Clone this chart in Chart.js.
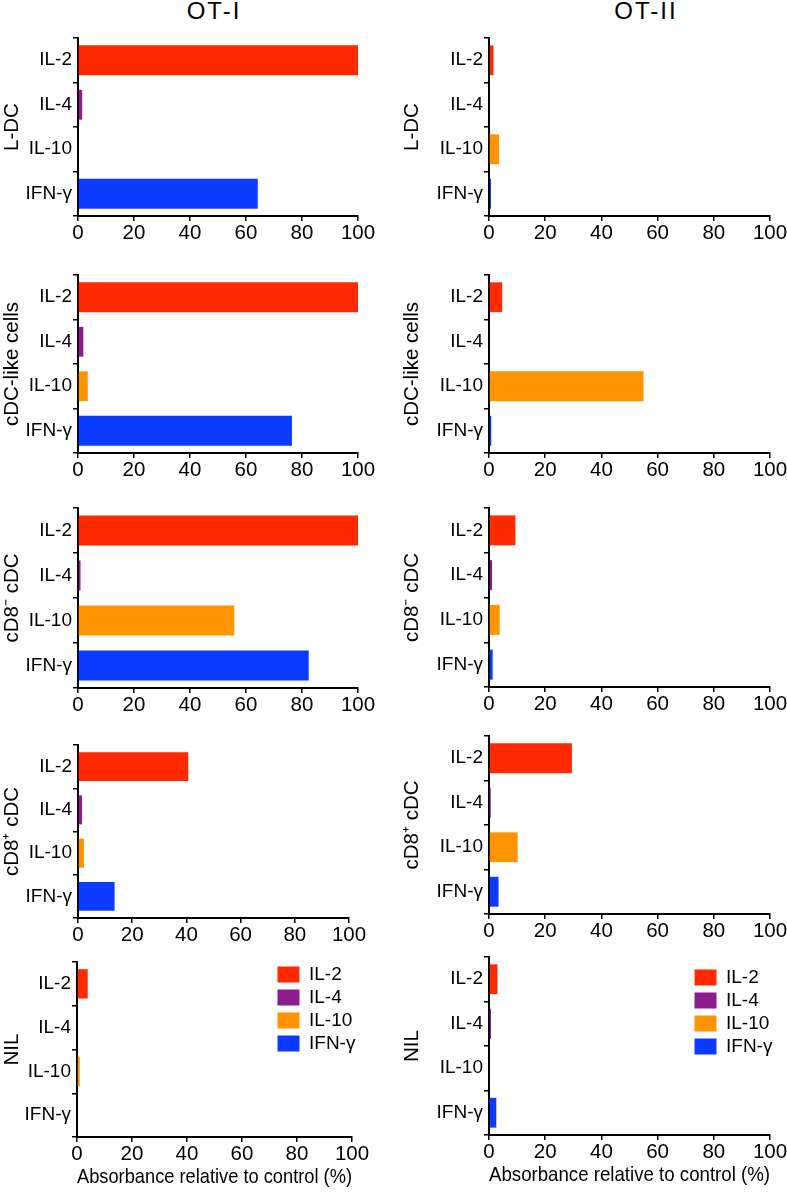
<!DOCTYPE html>
<html>
<head>
<meta charset="utf-8">
<script src="https://cdn.jsdelivr.net/npm/chart.js@4.4.0/dist/chart.umd.min.js"></script>
<style>
  body { margin: 0; background: #fff; }
  #page { position: relative; width: 787px; height: 1192px; overflow: hidden; font-family: "Liberation Sans", Arial, sans-serif; }
  .panel { position: absolute; }
  .col-title { position: absolute; top: -1px; font-size: 24px; line-height: 24px; letter-spacing: 2px; color: #000; transform: translateX(-50%); white-space: nowrap; }
</style>
</head>
<body>
<div id="page">
  <div class="col-title" style="left:214px">OT-I</div>
  <div class="col-title" style="left:646px">OT-II</div>
</div>
<script>
const cytokines = ["IL-2", "IL-4", "IL-10", "IFN-γ"];
const cellTypes = ["L-DC", "cDC-like cells", "cD8⁻ cDC", "cD8⁺ cDC", "NIL"];
const xTitle = "Absorbance relative to control (%)";

// % of control, order: IL-2, IL-4, IL-10, IFN-γ
const otI_lDC = [100, 1.5, 0, 64.2];
const otI_cdcLike = [100, 1.9, 3.5, 76.4];
const otI_cd8neg = [100, 0.9, 55.8, 82.4];
const otI_cd8pos = [40.7, 1.5, 2.2, 13.5];
const otI_nil = [3.9, 0, 1.0, 0];

const otII_lDC = [1.6, 0, 3.6, 0.7];
const otII_cdcLike = [4.7, 0, 55, 0.8];
const otII_cd8neg = [9.4, 1.1, 3.8, 1.3];
const otII_cd8pos = [29.5, 0.6, 10.2, 3.4];
const otII_nil = [3.0, 0.7, 0, 2.6];

const colors = ["#ff2a00", "#8c1d8c", "#ff9300", "#0a3bff"];

Chart.defaults.font.family = "'Liberation Sans', Arial, sans-serif";
Chart.defaults.color = "#000";

// moves the legend inside the plot, top right
const placeLegend = {
  id: "placeLegend",
  afterLayout(chart, args, opts) {
    const lg = chart.legend;
    if (!lg || opts.x == null) return;
    lg.left = opts.x;
    lg.top = opts.y;
    lg.right = chart.width;
    lg.bottom = chart.height;
  }
};

// plot area of every panel on the page: left, top, right, bottom
const panels = [
  { col: 0, row: 0, data: otI_lDC, area: [78, 38, 358, 216] },
  { col: 0, row: 1, data: otI_cdcLike, area: [78, 275, 358, 453] },
  { col: 0, row: 2, data: otI_cd8neg, area: [78, 508, 358, 688] },
  { col: 0, row: 3, data: otI_cd8pos, area: [78, 745, 349, 918] },
  { col: 0, row: 4, data: otI_nil, area: [77, 962, 352, 1137], legend: [273.5, 961] },
  { col: 1, row: 0, data: otII_lDC, area: [489, 38, 770, 216] },
  { col: 1, row: 1, data: otII_cdcLike, area: [489, 275, 770, 453] },
  { col: 1, row: 2, data: otII_cd8neg, area: [489, 508, 770, 687] },
  { col: 1, row: 3, data: otII_cd8pos, area: [489, 736, 770, 914] },
  { col: 1, row: 4, data: otII_nil, area: [489, 957, 770, 1135], legend: [690.5, 964] }
];

const page = document.getElementById("page");

panels.forEach(function (p) {
  const [left, top, right, bottom] = p.area;
  const padTop = 16, padRight = 20;
  const last = p.row === 4;
  const xh = last ? 53 : 30;
  const cl = p.col === 0 ? 0 : 400;
  const ct = top - padTop;
  const cw = right + padRight - cl;
  const ch = bottom + xh - ct;
  const yw = left - cl;

  const div = document.createElement("div");
  div.className = "panel";
  div.style.left = cl + "px";
  div.style.top = ct + "px";
  const canvas = document.createElement("canvas");
  canvas.width = cw;
  canvas.height = ch;
  div.appendChild(canvas);
  page.appendChild(div);

  const config = {
    type: "bar",
    data: {
      labels: cytokines,
      datasets: [
        {
          data: p.data,
          backgroundColor: colors,
          borderWidth: 0,
          barPercentage: 0.67,
          categoryPercentage: 1,
        },
      ],
    },
    options: {
      indexAxis: "y",
      responsive: false,
      animation: false,
      layout: { padding: { top: padTop, right: padRight, left: 0, bottom: 0 } },
      plugins: {
        tooltip: { enabled: false },
        legend: {
          display: !!p.legend,
          position: "chartArea",
          align: "start",
          labels: {
            boxWidth: 22,
            boxHeight: 16,
            padding: 4,
            color: "#000",
            font: { size: 19 },
            generateLabels: function () {
              return cytokines.map(function (c, i) {
                return { text: c, fillStyle: colors[i], strokeStyle: colors[i], lineWidth: 0, hidden: false, index: i };
              });
            },
          },
        },
        placeLegend: p.legend ? { x: p.legend[0] - cl, y: p.legend[1] - ct } : {},
      },
      scales: {
        x: {
          min: 0,
          max: 100,
          ticks: { stepSize: 20, color: "#000", font: { size: 20.5 }, padding: 0, maxRotation: 0 },
          grid: { drawOnChartArea: false, drawTicks: true, tickLength: 5, color: "#000", lineWidth: 1.5 },
          border: { color: "#000", width: 2 },
          title: { display: last, text: xTitle, color: "#000", font: { size: 20.8 }, padding: 0 },
          afterFit: function (s) { s.height = xh; },
        },
        y: {
          ticks: { color: "#000", font: { size: 19 }, padding: 1 },
          grid: { drawOnChartArea: false, drawTicks: true, tickLength: 5, color: "#000", lineWidth: 1.5 },
          border: { color: "#000", width: 2 },
          title: { display: true, text: cellTypes[p.row], color: "#000", font: { size: 20.5 }, padding: 0 },
          afterFit: function (s) { s.width = yw; },
        },
      },
    },
    plugins: [placeLegend],
  };

  new Chart(canvas.getContext("2d"), config);
});
</script>
</body>
</html>
